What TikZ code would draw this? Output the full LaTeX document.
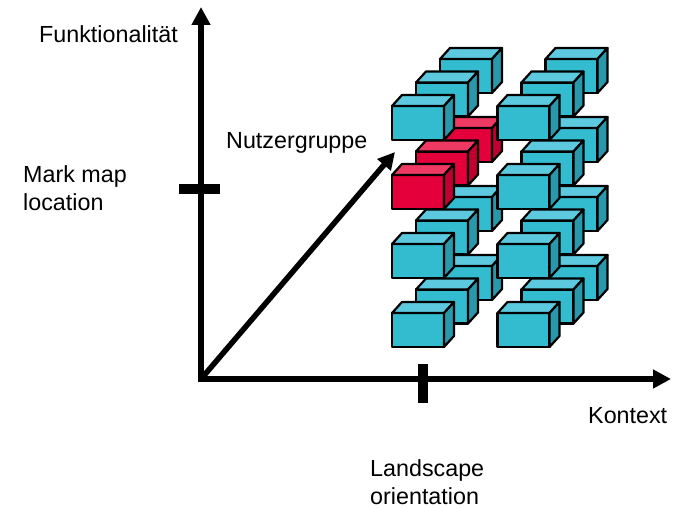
\documentclass[tikz,border=0pt]{standalone}
\usepackage{fontspec}
\setmainfont{Liberation Sans}
\usetikzlibrary{arrows.meta}
\definecolor{cyfront}{RGB}{51,187,208}
\definecolor{cytop}{RGB}{92,201,222}
\definecolor{cyside}{RGB}{40,152,170}
\definecolor{rdfront}{RGB}{228,0,58}
\definecolor{rdtop}{RGB}{238,58,98}
\definecolor{rdside}{RGB}{192,0,48}
\newcommand\boxcube[3]{%
  \filldraw[cubeline,fill=#3front] (#1,#2) rectangle ++(52,34);
  \filldraw[cubeline,fill=#3top] (#1,#2) -- ++(10,-11) -- ++(52,0) -- ++(-10,11) -- cycle;
  \filldraw[cubeline,fill=#3side] (#1+52,#2) -- ++(10,-11) -- ++(0,34) -- ++(-10,11) -- cycle;
}
\tikzset{
  cubeline/.style={draw=black,line width=2.2pt,line join=round},
  axis/.style={line width=6pt,line join=miter},
  lbl/.style={font=\fontsize{23.3}{28}\selectfont,inner sep=0pt,align=left},
  tick/.style={fill=black,inner sep=0pt,outer sep=0pt},
}
\begin{document}
\begin{tikzpicture}[x=1pt,y=-1pt]
\useasboundingbox (0,0) rectangle (679,508);
% cubes
\foreach \d in {2,1,0}{
  \foreach \c in {0,1}{
    \foreach \r in {0,1,2,3}{
      \pgfmathsetmacro\bx{392+105.5*\c+24*\d}
      \pgfmathsetmacro\by{106+69*\r-23.5*\d}
      \pgfmathtruncatemacro\isred{(\c==0 && \r==1) ? 1 : 0}
      \ifnum\isred=1 \def\cc{rd}\else\def\cc{cy}\fi
      \boxcube{\bx}{\by}{\cc}
    }
  }
}
% axes
\coordinate (O) at (201,379);
\coordinate (Ytop) at (201,7);
\coordinate (Xend) at (671,379);
\coordinate (Dend) at (395,152);
\draw[axis,{Triangle[length=18pt,width=18pt]}-{Triangle[length=18pt,width=18pt]}] (Ytop) -- (O) -- (Xend);
\draw[axis,line width=5.5pt,-{Triangle[length=17pt,width=17pt]}] (O) -- (Dend);
\node[tick,minimum width=41pt,minimum height=10pt] (tickY) at (199.5,189) {};
\node[tick,minimum width=10pt,minimum height=39pt] (tickX) at (423,383.5) {};
% labels
\node[lbl,anchor=base west] (funk) at (39,43) {Funktionalität};
\node[lbl,anchor=base west] (mark) at (23,210) {Mark map\\location};
\node[lbl,anchor=base west] (nutz) at (226,148) {Nutzergruppe};
\node[lbl,anchor=base west] (kont) at (588,423) {Kontext};
\node[lbl,anchor=base west] (land) at (370,504) {Landscape\\orientation};
\end{tikzpicture}
\end{document}
